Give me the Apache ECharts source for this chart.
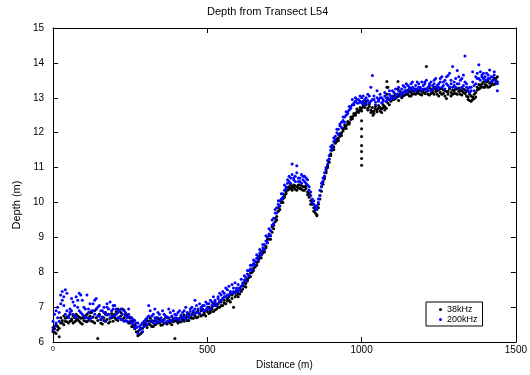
<!DOCTYPE html>
<html><head><meta charset="utf-8">
<script src="https://cdn.jsdelivr.net/npm/echarts@6/dist/echarts.min.js"></script>
<style>html,body{margin:0;padding:0;background:#fff}#c{width:530px;height:375px}</style>
</head><body><div id="c"></div>
<script>
const FONT = "'Liberation Sans', Arial, sans-serif";
const chartTitle = 'Depth from Transect L54';
const xName = 'Distance (m)';
const yName = 'Depth (m)';
const seriesNames = ['38kHz', '200kHz'];
const xTicks = [0, 500, 1000, 1500];
const yTicks = [6, 7, 8, 9, 10, 11, 12, 13, 14, 15];

const distance = [
0,5,10,15,20,25,30,35,40,45,50,55,60,65,70,75,80,85,90,95,
100,105,110,115,120,125,130,135,140,145,150,155,160,165,170,175,180,185,190,195,
200,205,210,215,220,225,230,235,240,245,250,255,260,265,270,275,280,285,290,295,
300,305,310,315,320,325,330,335,340,345,350,355,360,365,370,375,380,385,390,395,
400,405,410,415,420,425,430,435,440,445,450,455,460,465,470,475,480,485,490,495,
500,505,510,515,520,525,530,535,540,545,550,555,560,565,570,575,580,585,590,595,
600,605,610,615,620,625,630,635,640,645,650,655,660,665,670,675,680,685,690,695,
700,705,710,715,720,725,730,735,740,745,750,755,760,765,770,775,780,785,790,795,
800,805,810,815,820,825,830,835,840,845,850,855,860,865,870,875,880,885,890,895,
900,905,910,915,920,925,930,935,940,945,950,955,960,965,970,975,980,985,990,995,
1000,1005,1010,1015,1020,1025,1030,1035,1040,1045,1050,1055,1060,1065,1070,1075,1080,1085,1090,1095,
1100,1105,1110,1115,1120,1125,1130,1135,1140,1145,1150,1155,1160,1165,1170,1175,1180,1185,1190,1195,
1200,1205,1210,1215,1220,1225,1230,1235,1240,1245,1250,1255,1260,1265,1270,1275,1280,1285,1290,1295,
1300,1305,1310,1315,1320,1325,1330,1335,1340,1345,1350,1355,1360,1365,1370,1375,1380,1385,1390,1395,
1400,1405,1410,1415,1420,1425,1430,1435,1440
];

// 38kHz, first reading at each distance
const depth38 = [
6.30,6.38,6.25,6.45,6.15,6.55,6.62,6.50,6.68,6.58,6.72,6.60,6.66,6.55,6.70,6.62,6.75,6.60,6.68,6.52,
6.62,6.75,6.58,6.70,6.85,6.60,6.72,6.55,6.95,6.10,6.80,6.65,6.52,6.70,6.60,6.78,6.55,6.68,6.82,6.60,
6.70,6.88,6.62,6.90,6.75,6.95,6.70,6.80,6.60,6.72,6.55,6.60,6.45,6.50,6.30,6.18,6.35,6.25,6.40,6.48,
6.55,6.42,6.60,6.50,6.58,6.45,6.62,6.52,6.68,6.55,6.60,6.50,6.65,6.55,6.70,6.58,6.62,6.50,6.66,6.10,
6.60,6.55,6.68,6.58,6.72,6.60,6.65,6.75,6.62,6.70,6.80,6.68,6.75,6.85,6.72,6.80,6.90,6.78,6.85,6.75,
6.95,6.82,6.90,7.00,6.88,7.05,6.95,7.10,7.00,7.15,7.05,7.20,7.10,7.25,7.30,7.15,7.35,7.00,7.42,7.35,
7.30,7.38,7.45,7.52,7.60,7.68,7.80,7.90,7.98,8.05,8.12,8.20,8.28,8.35,8.40,8.50,8.55,8.65,8.75,8.85,
8.95,9.05,9.15,9.35,9.45,9.60,9.75,9.90,10.00,10.10,10.20,10.30,10.35,10.45,10.40,10.45,10.50,10.38,10.45,10.50,
10.40,10.48,10.35,10.45,10.40,10.30,10.15,10.05,9.95,9.85,9.70,9.65,9.95,10.20,10.45,10.60,10.75,10.90,11.05,11.25,
11.40,11.50,11.60,11.70,11.75,11.85,11.90,12.00,12.10,12.15,12.20,12.25,12.30,12.38,12.45,12.50,12.55,12.60,12.62,12.65,
12.70,12.75,12.85,12.80,12.70,12.75,12.65,12.60,12.62,12.68,12.65,12.70,12.62,12.68,12.72,12.65,12.90,13.30,12.80,12.90,
12.95,13.05,12.98,13.10,13.05,13.12,13.00,13.15,13.08,13.20,13.10,13.18,13.05,13.20,13.12,13.25,13.15,13.20,13.10,13.18,
13.22,13.12,13.90,13.20,13.08,13.25,13.15,13.30,13.18,13.10,13.22,13.15,13.28,13.12,13.20,12.98,13.18,13.25,13.15,13.10,
13.20,13.12,13.25,13.18,13.10,13.20,13.15,13.22,13.05,12.95,13.10,12.90,13.02,12.98,13.15,13.30,13.25,13.35,13.40,13.30,
13.38,13.45,13.30,13.42,13.35,13.50,13.38,13.55,13.45
];

// 38kHz, second reading at each distance
const depth38b = [
6.42,6.28,6.50,6.35,6.40,6.70,6.55,6.75,6.60,6.72,6.55,6.80,6.62,6.75,6.58,6.80,6.65,6.72,6.55,6.70,
6.70,6.60,6.80,6.62,6.75,6.85,6.58,6.90,6.70,6.62,6.75,6.55,6.72,6.62,6.85,6.65,6.80,6.58,6.70,6.75,
6.80,6.65,6.95,6.72,6.85,6.65,6.92,6.62,6.78,6.55,6.68,6.45,6.58,6.38,6.42,6.30,6.22,6.40,6.30,6.55,
6.48,6.62,6.52,6.68,6.45,6.60,6.50,6.70,6.58,6.65,6.48,6.62,6.55,6.72,6.52,6.68,6.55,6.72,6.58,6.62,
6.68,6.62,6.58,6.75,6.65,6.78,6.70,6.62,6.80,6.72,6.68,6.85,6.78,6.70,6.90,6.82,6.75,6.95,6.80,6.92,
6.88,7.00,6.85,6.95,7.10,6.92,7.08,7.00,7.18,7.05,7.25,7.12,7.30,7.18,7.20,7.38,7.25,7.40,7.30,7.48,
7.40,7.55,7.48,7.62,7.70,7.58,7.75,7.85,7.88,8.00,8.05,8.15,8.20,8.30,8.48,8.42,8.62,8.58,8.70,8.95,
9.05,8.95,9.30,9.25,9.55,9.50,9.85,9.80,10.08,10.00,10.15,10.25,10.42,10.38,10.50,10.35,10.42,10.48,10.35,10.42,
10.50,10.38,10.45,10.35,10.48,10.22,10.25,9.95,10.02,9.75,9.80,9.62,9.85,10.10,10.32,10.52,10.68,10.85,11.00,11.15,
11.35,11.58,11.52,11.75,11.82,11.78,11.98,11.92,12.05,12.22,12.12,12.32,12.25,12.45,12.40,12.55,12.50,12.68,12.58,12.72,
12.62,12.80,12.72,12.90,12.65,12.82,12.58,12.72,12.55,12.75,12.60,12.78,12.72,12.58,12.80,12.75,12.70,12.85,12.95,13.02,
13.02,12.95,13.10,13.02,12.92,13.18,13.08,13.05,13.18,13.10,13.22,13.05,13.15,13.10,13.25,13.10,13.22,13.12,13.25,13.08,
13.15,13.25,13.18,13.10,13.28,13.12,13.22,13.10,13.25,13.20,13.05,13.25,13.10,13.22,13.05,13.18,13.10,13.30,13.05,13.22,
13.12,13.25,13.10,13.28,13.20,13.08,13.25,13.12,13.18,13.02,12.92,13.05,12.95,13.10,13.02,13.22,13.38,13.28,13.32,13.45,
13.30,13.35,13.48,13.32,13.45,13.40,13.55,13.42,13.60
];

// 38kHz isolated readings (vertical spikes)
const extraDistance38 = [1000,1000,1000,1000,1000,1000,1000,1037,1082,1082,1082,1118,1118];
const extraDepth38 = [12.34,12.11,11.89,11.63,11.46,11.26,11.07,12.50,13.47,13.30,13.10,13.47,13.25];

// 200kHz, first reading at each distance
const depth200 = [
6.35,6.80,6.55,7.00,6.60,7.10,7.45,7.30,7.50,6.90,6.75,6.85,6.90,7.15,6.75,7.30,7.00,7.40,6.85,7.20,
6.75,6.95,6.70,6.85,6.65,6.90,7.10,6.80,7.25,7.00,6.75,6.90,6.70,6.85,6.60,7.00,6.80,7.15,6.75,6.95,
7.05,6.80,6.70,6.90,6.65,6.80,6.60,6.85,6.70,6.95,6.60,6.70,6.50,6.62,6.45,6.55,6.35,6.50,6.30,6.45,
6.55,6.70,7.05,6.60,6.75,6.55,6.70,6.62,6.85,6.58,6.70,6.60,6.80,6.55,6.72,6.95,6.60,6.75,6.65,6.80,
6.68,6.85,6.62,6.78,6.70,6.90,6.65,6.80,6.75,6.95,6.78,6.90,7.20,6.85,6.95,6.82,7.00,6.90,7.05,6.92,
7.00,7.10,6.95,7.15,7.05,7.20,7.10,7.30,7.15,7.35,7.25,7.40,7.30,7.50,7.35,7.45,7.40,7.55,7.42,7.50,
7.45,7.55,7.60,7.70,7.78,7.85,7.95,8.05,8.10,8.20,8.25,8.32,8.40,8.45,8.55,8.60,8.70,8.80,8.90,9.00,
9.10,9.20,9.35,9.55,9.70,9.85,9.95,10.05,10.10,10.25,10.35,10.45,10.55,10.60,10.70,11.10,10.65,10.75,11.05,10.60,
10.70,10.55,10.75,10.60,10.70,10.50,10.35,10.20,10.10,9.95,9.85,9.90,10.10,10.35,10.55,10.70,10.85,11.00,11.20,11.35,
11.50,11.65,11.75,11.90,12.00,12.10,12.20,12.30,12.35,12.45,12.50,12.60,12.65,12.75,12.80,12.85,12.90,12.85,12.95,12.90,
13.00,12.90,12.95,12.85,12.92,13.05,12.90,13.64,12.95,12.88,13.20,12.90,13.00,12.85,12.95,13.05,12.90,13.00,13.10,12.95,
13.05,13.15,13.00,13.10,13.20,13.05,13.25,13.15,13.30,13.20,13.35,13.25,13.40,13.30,13.20,13.35,13.25,13.40,13.30,13.20,
13.35,13.45,13.25,13.30,13.40,13.20,13.35,13.50,13.30,13.25,13.40,13.55,13.30,13.45,13.25,13.60,13.35,13.70,13.40,13.30,
13.45,13.30,13.78,13.40,13.25,13.55,13.35,14.20,13.30,13.20,13.15,13.30,13.75,13.20,13.40,13.55,13.95,13.50,13.65,13.55,
13.60,13.50,13.65,13.55,13.45,13.60,13.75,13.50,13.20
];

// 200kHz, second reading at each distance
const depth200b = [
6.60,6.45,6.90,6.70,6.85,7.35,7.20,7.05,6.80,7.40,6.70,6.95,7.25,6.80,7.05,6.70,7.20,6.90,7.35,6.80,
7.00,6.70,7.35,6.95,7.10,6.70,6.90,7.20,6.95,6.75,7.05,6.65,6.90,7.00,6.80,7.10,6.95,6.70,6.90,7.05,
6.75,6.95,6.85,6.70,6.95,6.65,6.90,6.75,6.60,6.80,6.72,6.55,6.65,6.40,6.55,6.25,6.45,6.40,6.55,6.60,
6.65,6.50,6.75,6.90,6.62,6.80,6.95,6.55,6.70,6.80,6.62,6.90,6.65,6.75,6.60,6.70,6.85,6.62,6.90,6.70,
6.78,6.65,6.90,6.70,6.85,6.72,7.00,6.85,6.70,6.88,7.00,6.80,6.95,7.05,6.85,7.10,6.95,7.05,6.90,7.15,
7.10,6.95,7.20,7.05,7.30,7.15,7.05,7.25,7.40,7.20,7.45,7.30,7.55,7.35,7.60,7.40,7.65,7.45,7.70,7.55,
7.65,7.50,7.80,7.65,7.90,7.75,8.05,7.90,8.20,8.05,8.35,8.20,8.50,8.35,8.65,8.50,8.80,8.65,9.05,8.85,
9.25,9.05,9.50,9.40,9.80,9.70,10.05,9.90,10.25,10.15,10.50,10.40,10.65,10.75,10.55,10.80,10.70,10.60,10.85,10.70,
10.60,10.80,10.65,10.75,10.55,10.65,10.45,10.30,10.00,10.05,9.90,9.80,10.00,10.20,10.45,10.60,10.75,10.95,11.10,11.25,
11.60,11.55,11.85,11.80,12.10,11.95,12.25,12.15,12.45,12.30,12.60,12.55,12.75,12.70,12.95,12.80,13.00,12.95,12.85,13.05,
12.85,13.05,12.80,13.00,13.10,12.85,13.30,12.95,13.05,12.80,13.00,12.95,13.10,13.00,12.90,13.15,13.00,12.95,13.20,13.05,
13.20,13.00,13.25,13.10,13.30,13.15,13.10,13.35,13.20,13.40,13.15,13.30,13.25,13.45,13.25,13.20,13.45,13.30,13.25,13.45,
13.25,13.40,13.50,13.20,13.35,13.45,13.25,13.40,13.55,13.35,13.30,13.45,13.60,13.35,13.50,13.40,13.64,13.30,13.50,13.90,
13.35,13.55,13.40,13.60,13.50,13.30,13.65,13.45,13.40,13.25,13.30,13.20,13.45,13.35,13.60,13.70,13.55,13.75,13.60,13.70,
13.50,13.70,13.55,13.80,13.60,13.50,13.65,13.45,13.40
];

const pairs = (xs, ys) => xs.map((d, i) => [d, ys[i]]);
const data38 = pairs(distance, depth38).concat(pairs(distance, depth38b), pairs(extraDistance38, extraDepth38));
const data200 = pairs(distance, depth200).concat(pairs(distance, depth200b));

const axisBase = {
  axisLine: { show: true, onZero: false, lineStyle: { color: '#000', width: 1 } },
  axisTick: { show: true, inside: true, length: 5, lineStyle: { color: '#000', width: 1 } },
  splitLine: { show: false },
  minorTick: { show: false }
};

const chart = echarts.init(document.getElementById('c'), null, { renderer: 'canvas' });
chart.setOption({
  animation: false,
  backgroundColor: '#fff',
  textStyle: { fontFamily: FONT, color: '#000' },
  title: {
    text: chartTitle, left: 202, top: 1,
    textStyle: { fontFamily: FONT, fontSize: 11, fontWeight: 'normal', color: '#000' }
  },
  grid: { left: 53, right: 13, top: 28, bottom: 29, containLabel: false },
  legend: {
    orient: 'vertical', left: 426, top: 302,
    data: seriesNames,
    icon: 'circle', itemWidth: 3, itemHeight: 3, itemGap: 1,
    padding: [3, 5, 2, 13],
    borderColor: '#000', borderWidth: 1, backgroundColor: '#fff',
    textStyle: { fontFamily: FONT, fontSize: 9, color: '#000' }
  },
  xAxis: [
    Object.assign({}, axisBase, {
      type: 'value', min: xTicks[0], max: xTicks[xTicks.length - 1], interval: 500, position: 'bottom',
      name: xName, nameLocation: 'middle', nameGap: 13,
      nameTextStyle: { fontFamily: FONT, fontSize: 10, color: '#000' },
      axisLabel: {
        show: true, margin: 3, color: '#000', fontFamily: FONT, fontSize: 10,
        showMinLabel: true, showMaxLabel: true, hideOverlap: false,
        formatter: v => (v === 0 ? '{s|0}' : String(v)),
        rich: { s: { fontSize: 7, fontFamily: FONT, color: '#000' } }
      }
    }),
    Object.assign({}, axisBase, {
      type: 'value', min: xTicks[0], max: xTicks[xTicks.length - 1], interval: 500, position: 'top',
      axisLabel: { show: false }
    })
  ],
  yAxis: [
    Object.assign({}, axisBase, {
      type: 'value', min: yTicks[0], max: yTicks[yTicks.length - 1], interval: 1, position: 'left',
      name: yName, nameLocation: 'middle', nameGap: 29,
      nameTextStyle: { fontFamily: FONT, fontSize: 11, color: '#000', padding: [0, 40, 0, 0] },
      axisLabel: {
        show: true, margin: 9, color: '#000', fontFamily: FONT, fontSize: 10,
        showMinLabel: true, showMaxLabel: true, hideOverlap: false
      }
    }),
    Object.assign({}, axisBase, {
      type: 'value', min: yTicks[0], max: yTicks[yTicks.length - 1], interval: 1, position: 'right',
      axisLabel: { show: false }
    })
  ],
  series: [
    {
      name: seriesNames[0], type: 'scatter', xAxisIndex: 0, yAxisIndex: 0,
      data: data38, symbol: 'circle', symbolSize: 3,
      itemStyle: { color: '#000000', opacity: 1 }, emphasis: { disabled: true }
    },
    {
      name: seriesNames[1], type: 'scatter', xAxisIndex: 0, yAxisIndex: 0,
      data: data200, symbol: 'circle', symbolSize: 3,
      itemStyle: { color: '#0000ff', opacity: 1 }, emphasis: { disabled: true }
    }
  ]
});
</script></body></html>
